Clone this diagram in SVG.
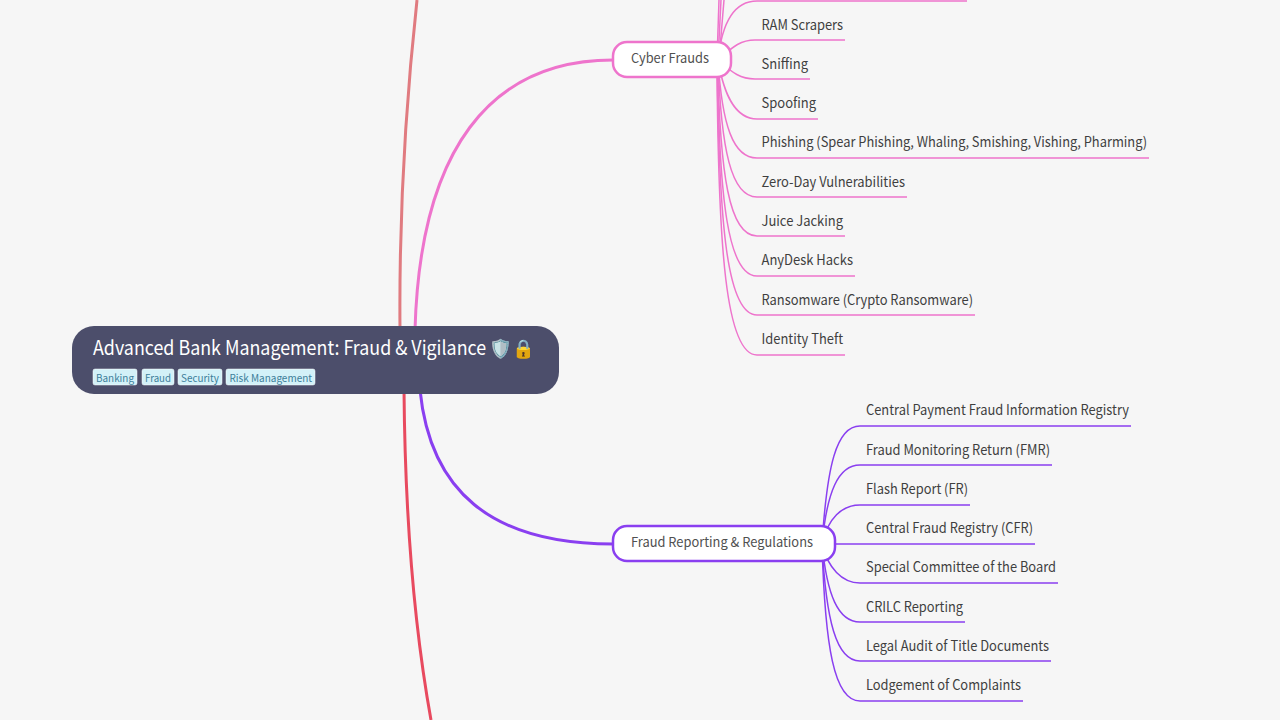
<svg xmlns="http://www.w3.org/2000/svg" width="1280" height="720" viewBox="0 0 1280 720">
<style>
text{font-family:"Noto Sans CJK SC","Noto Sans",sans-serif}
.leaf{font-size:14px;fill:#3f3f3f}
.sub{font-size:13.5px;fill:#505050}
.tag{font-size:10.500px;fill:#3d7f9b}
.tagbox{fill:#d3f1f8;stroke:#fff;stroke-width:.5}
.p,.v{fill:none}
.p{stroke:#ee74cc;stroke-width:1.5}
.v{stroke:#8a3ff0;stroke-width:1.5}
.subbox{fill:#fff;stroke-width:2.5}
</style>
<rect width="1280" height="720" fill="#f6f6f6"/>
<g id="connectors">
<path d="M400 330C399 220 405 110 417 0" fill="none" stroke="#e07b80" stroke-width="3"/>
<path d="M404 390C405 510 413 620 431 720" fill="none" stroke="#e84a5f" stroke-width="3"/>
<path d="M415 330C420 150 490 60 613 60" fill="none" stroke="#ee74cc" stroke-width="3"/>
<path d="M420 390C430 490 490 544 613 544" fill="none" stroke="#8a3ff0" stroke-width="3"/>
<g>
<path class="p" d="M718 60C722 22 735 1 757 1H967"/>
<path class="p" d="M718 60L721 0"/>
<path class="p" d="M719 60L724 0"/>
<path class="p" d="M717 60L719 0"/>
<path class="p" d="M718 60C730 50 738 40 755 40H845"/>
<path class="p" d="M718 60C730 70 738 79 755 79H810"/>
<path class="p" d="M718 60C724 95 735 119 757 119H818"/>
<path class="p" d="M718 60C722 125 733 158 757 158H1149"/>
<path class="p" d="M718 60C721 149 731 197 757 197H907"/>
<path class="p" d="M717.500 60C720 174 729 236 757 236H845"/>
<path class="p" d="M717.500 60C719 200 728 276 757 276H855"/>
<path class="p" d="M717 60C719 226 727 315 757 315H975"/>
<path class="p" d="M717 60C718 250 726 355 757 355H845"/>
</g>
<g>
<path class="v" d="M822 544C827 467 836 426 860 426H1131"/>
<path class="v" d="M822 544C827 492 838 465 860 465H1052"/>
<path class="v" d="M822 544C828 518 842 505 860 505H970"/>
<path class="v" d="M822 544H1035"/>
<path class="v" d="M822 544C828 568 842 583 860 583H1058"/>
<path class="v" d="M822 544C827 595 838 622 860 622H965"/>
<path class="v" d="M822 544C826 620 836 661 860 661H1051"/>
<path class="v" d="M822 544C825 647 834 701 860 701H1023"/>
</g>
</g>
<g id="root">
<rect x="72" y="326" width="487" height="68" rx="22" fill="#4c4e6b"/>
<text transform="translate(93 355) scale(.916 1)" font-size="19.500" fill="#fff">Advanced Bank Management: Fraud &amp; Vigilance</text>
<text x="488.700" y="355" font-size="18.300" fill="#fff">🛡️🔒</text>
<rect class="tagbox" x="93" y="369" width="44" height="16" rx="2"/><text class="tag" x="96" y="382" textLength="38" lengthAdjust="spacingAndGlyphs">Banking</text>
<rect class="tagbox" x="142" y="369" width="32" height="16" rx="2"/><text class="tag" x="145" y="382" textLength="26" lengthAdjust="spacingAndGlyphs">Fraud</text>
<rect class="tagbox" x="178" y="369" width="44" height="16" rx="2"/><text class="tag" x="181" y="382" textLength="38" lengthAdjust="spacingAndGlyphs">Security</text>
<rect class="tagbox" x="226" y="369" width="89" height="16" rx="2"/><text class="tag" x="229.500" y="382" textLength="82.500" lengthAdjust="spacingAndGlyphs">Risk Management</text>
</g>
<g id="cyber-frauds">
<rect class="subbox" x="613" y="42" width="118" height="35" rx="14" stroke="#ee74cc"/>
<text class="sub" x="631" y="63" textLength="78" lengthAdjust="spacingAndGlyphs">Cyber Frauds</text>
</g>
<g id="fraud-reporting">
<rect class="subbox" x="613" y="526" width="222" height="35" rx="14" stroke="#8a3ff0"/>
<text class="sub" x="631" y="547" textLength="182" lengthAdjust="spacingAndGlyphs">Fraud Reporting &amp; Regulations</text>
</g>
<g id="cyber-leaves">
<text class="leaf" x="761.500" y="29.500" textLength="81.500" lengthAdjust="spacingAndGlyphs">RAM Scrapers</text>
<text class="leaf" x="761.500" y="68.500" textLength="46.500" lengthAdjust="spacingAndGlyphs">Sniffing</text>
<text class="leaf" x="761.500" y="108" textLength="54.500" lengthAdjust="spacingAndGlyphs">Spoofing</text>
<text class="leaf" x="761.500" y="147" textLength="385.500" lengthAdjust="spacingAndGlyphs">Phishing (Spear Phishing, Whaling, Smishing, Vishing, Pharming)</text>
<text class="leaf" x="761.500" y="186.500" textLength="143.500" lengthAdjust="spacingAndGlyphs">Zero-Day Vulnerabilities</text>
<text class="leaf" x="761.500" y="226" textLength="81.500" lengthAdjust="spacingAndGlyphs">Juice Jacking</text>
<text class="leaf" x="761.500" y="265" textLength="91.500" lengthAdjust="spacingAndGlyphs">AnyDesk Hacks</text>
<text class="leaf" x="761.500" y="304.500" textLength="211.500" lengthAdjust="spacingAndGlyphs">Ransomware (Crypto Ransomware)</text>
<text class="leaf" x="761.500" y="344" textLength="81.500" lengthAdjust="spacingAndGlyphs">Identity Theft</text>
</g>
<g id="reporting-leaves">
<text class="leaf" x="866" y="415" textLength="263" lengthAdjust="spacingAndGlyphs">Central Payment Fraud Information Registry</text>
<text class="leaf" x="866" y="454.500" textLength="184" lengthAdjust="spacingAndGlyphs">Fraud Monitoring Return (FMR)</text>
<text class="leaf" x="866" y="494" textLength="102" lengthAdjust="spacingAndGlyphs">Flash Report (FR)</text>
<text class="leaf" x="866" y="533" textLength="167" lengthAdjust="spacingAndGlyphs">Central Fraud Registry (CFR)</text>
<text class="leaf" x="866" y="572" textLength="190" lengthAdjust="spacingAndGlyphs">Special Committee of the Board</text>
<text class="leaf" x="866" y="611.500" textLength="97" lengthAdjust="spacingAndGlyphs">CRILC Reporting</text>
<text class="leaf" x="866" y="651" textLength="183" lengthAdjust="spacingAndGlyphs">Legal Audit of Title Documents</text>
<text class="leaf" x="866" y="690" textLength="155" lengthAdjust="spacingAndGlyphs">Lodgement of Complaints</text>
</g>
</svg>
